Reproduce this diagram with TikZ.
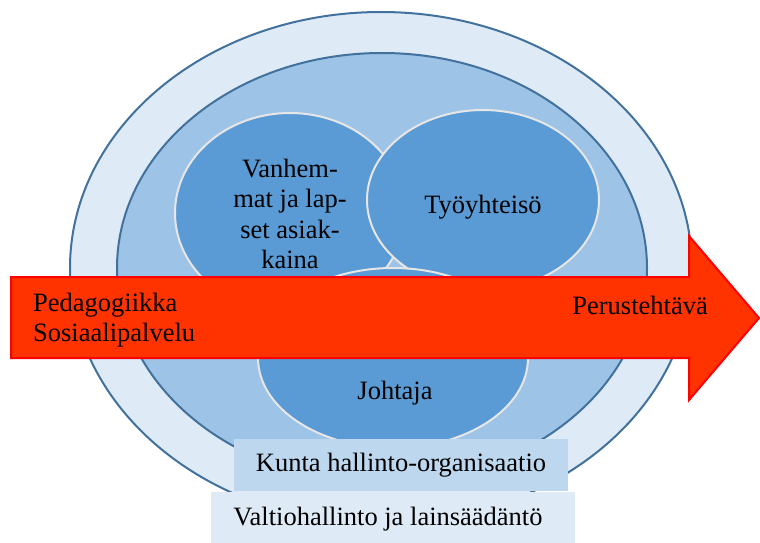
\documentclass[tikz,border=0pt]{standalone}
\usepackage{fontspec}
\setmainfont{Liberation Serif}
\usetikzlibrary{shapes.geometric}
\definecolor{ringPale}{HTML}{DEEBF7}
\definecolor{ringMid}{HTML}{9DC3E6}
\definecolor{ringLine}{HTML}{41719C}
\definecolor{blobBlue}{HTML}{5B9BD5}
\definecolor{blobLine}{HTML}{E7E6E6}
\definecolor{boxBlue}{HTML}{BDD7EE}
\definecolor{arrowFill}{HTML}{FF3300}

\begin{document}
\begin{tikzpicture}[x=1pt,y=-1pt,
  ring/.style={ellipse,draw=ringLine,line width=2pt,inner sep=0},
  blob/.style={ellipse,fill=blobBlue,draw=blobLine,line width=2pt,inner sep=0},
  lbl/.style={inner sep=0,font=\fontsize{26.5}{30.5}\selectfont},
  band/.style={inner sep=0,minimum height=52pt}]
\useasboundingbox (0,0) rectangle (760,543);
% rings
\node[ring,fill=ringPale,minimum width=622pt,minimum height=512pt] (outer) at (381,268) {};
\node[ring,fill=ringMid,minimum width=530pt,minimum height=430pt] (inner) at (382,268) {};
% three blobs
\node[blob,minimum width=230pt,minimum height=200pt] (parents) at (290,213) {};
\node[blob,minimum width=232pt,minimum height=180pt] (workcomm) at (483,200) {};
\node[blob,minimum width=270pt,minimum height=180pt] (leader) at (393,358) {};
\node[lbl,align=center] (parentsTxt) at (290,214) {Vanhem-\\mat ja lap-\\set asiak-\\kaina};
\node[lbl] (workcommTxt) at (483,207) {Työyhteisö};
\node[lbl] (leaderTxt) at (395,393) {Johtaja};
% main arrow
\draw[fill=arrowFill,draw=red,line width=2pt,line join=miter]
  (11,277) -- (689,277) -- (689,236) -- (759,318) -- (689,400) -- (689,358) -- (11,358) -- cycle;
\node[lbl,align=left,anchor=west] (fromTxt) at (33,320) {Pedagogiikka\\Sosiaalipalvelu};
\node[lbl,anchor=east] (toTxt) at (708,305) {Perustehtävä};
% bands at the bottom
\node[band,fill=boxBlue,minimum width=334pt,label={[lbl]center:Kunta hallinto-organisaatio}] (kunta) at (401,465) {};
\node[band,fill=ringPale,minimum width=364pt,minimum height=51pt] (valtio) at (393,517.5) {};
\node[lbl] (valtioTxt) at (388,519) {Valtiohallinto ja lainsäädäntö};
\end{tikzpicture}
\end{document}
